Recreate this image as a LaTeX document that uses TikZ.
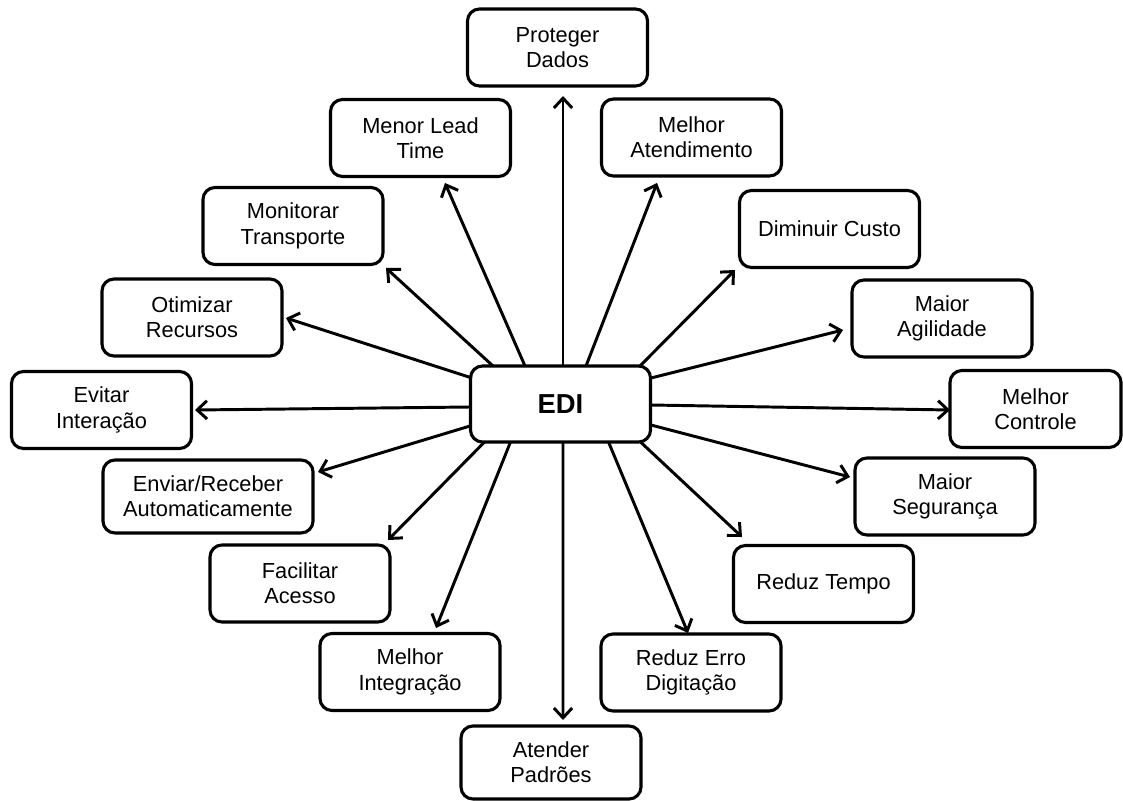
\documentclass[tikz,border=0pt]{standalone}
\usepackage{fontspec}
\setmainfont{Liberation Sans}
\usetikzlibrary{arrows.meta}
\usetikzlibrary{calc}
\usepackage{xcolor}

\tikzset{
  caixa/.style={draw, line width=2.2pt, rounded corners=0.3cm, align=center,
    minimum width=4.5cm, minimum height=1.925cm, inner sep=2pt,
    font=\fontsize{15.5}{18}\selectfont},
  seta/.style={line width=2.1pt, -{Straight Barb[length=7pt,width=13pt]}}
}

\begin{document}
\begin{tikzpicture}[x=0.025cm,y=-0.025cm]
      \useasboundingbox (0,0) rectangle (1123,801);

      % Centre
      \node[caixa, font=\fontsize{19.5}{22}\selectfont\bfseries, minimum height=1.9cm] (edi) at (560.5,404) {EDI};

      % Top
      \node[caixa] (prot) at (557.5,47.5) {Proteger\\Dados};
      \node[caixa] (lead) at (420.5,138) {Menor Lead\\Time};
      \node[caixa] (aten) at (691.5,137.5) {Melhor\\Atendimento};
      \node[caixa] (moni) at (293,226) {Monitorar\\Transporte};
      \node[caixa] (cust) at (829.5,229) {Diminuir Custo};
      \node[caixa] (otim) at (192,317.5) {Otimizar\\Recursos};
      \node[caixa] (agil) at (942,318.5) {Maior\\Agilidade};

      % Sides
      \node[caixa] (evit) at (101.5,410) {Evitar\\Interação};
      \node[caixa, minimum width=4.275cm] (cont) at (1035.5,409) {Melhor\\Controle};

      % Bottom
      \node[caixa, minimum width=5.25cm, minimum height=1.825cm] (envi) at (208,496.5) {Enviar/Receber\\Automaticamente};
      \node[caixa] (segu) at (945,496.5) {Maior\\Segurança};
      \node[caixa] (faci) at (300,583.5) {Facilitar\\Acesso};
      \node[caixa] (redt) at (823.5,584) {Reduz Tempo};
      \node[caixa] (inte) at (410,672) {Melhor\\Integração};
      \node[caixa] (erro) at (691,672.5) {Reduz Erro\\Digitação};
      \node[caixa, minimum height=1.825cm] (padr) at (551,762.5) {Atender\\Padrões};

      % Arrows
      \foreach \n/\sx/\sy/\ex/\ey in {prot/2.5/-38/5.5/48.5, lead/-35.5/-38/24.5/45,
        aten/25.5/-38/-34.5/45.5, moni/-67.5/-38/93/42, cust/79.5/-38/-94.5/41,
        otim/-88.5/-26/94/0.5, agil/90.5/-26/-99/11.5, evit/-90.5/3/93.5/0,
        cont/90.5/1/-85.5/1, envi/-90.5/22/110/-24.5, segu/90.5/21/-95/-19.5,
        faci/-76/38/88/-43.5, redt/80/38/-81.5/-47, inte/-50/38/26/-44,
        erro/48/38/-3/-39.5, padr/2.5/38/12/-42.5}
      {
        \draw[seta] ($(edi)+(\sx,\sy)$) -- ($(\n)+(\ex,\ey)$);
      }

  \end{tikzpicture}
\end{document}
